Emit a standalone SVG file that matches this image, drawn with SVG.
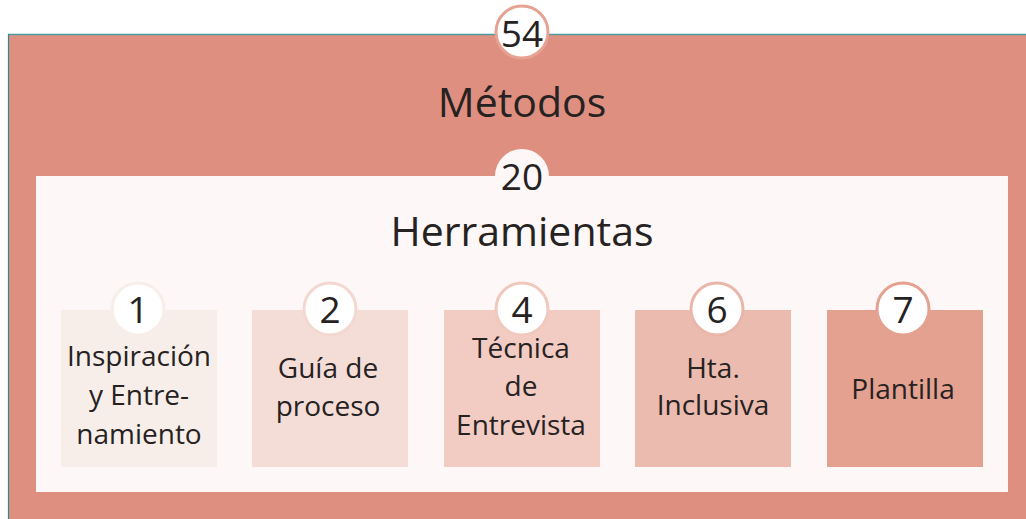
<svg xmlns="http://www.w3.org/2000/svg" width="1026" height="519" viewBox="0 0 1026 519">
<style>
text{font-family:"Open Sans","Noto Sans","Liberation Sans",sans-serif;fill:#262222;text-anchor:middle}
.title{font-size:41px}
.num{font-size:37px}
.lbl{font-size:28px}
.badge{fill:#fff;stroke-width:3}
</style>
<rect width="1026" height="519" fill="#fff"/>
<g id="metodos">
<rect x="8" y="34" width="1018" height="485" fill="#DF8F80"/>
<line x1="8" y1="34.5" x2="1026" y2="34.5" stroke="#4E9A9E" stroke-width="1.5"/>
<line x1="8.5" y1="34" x2="8.5" y2="519" stroke="#2E8A90" stroke-width="1.2"/>
<circle cx="522" cy="32" r="26" class="badge" stroke="#E6A293"/>
<text x="522" y="47" class="num">54</text>
<text x="522" y="117" class="title">Métodos</text>
</g>
<g id="herramientas">
<rect x="36" y="176" width="972" height="316" fill="#FDF8F7"/>
<circle cx="522" cy="176" r="27" fill="#FDF8F7"/>
<text x="522" y="190" class="num">20</text>
<text x="522" y="246" class="title">Herramientas</text>
</g>
<g id="n1">
<rect x="61" y="310" width="156" height="157" fill="#F8EEE9"/>
<circle cx="138" cy="309" r="26" class="badge" stroke="#F8EEE9"/>
<text x="138" y="323" class="num">1</text>
<text x="139" y="366" class="lbl">Inspiración</text>
<text x="139" y="405" class="lbl">y Entre-</text>
<text x="139" y="444" class="lbl">namiento</text>
</g>
<g id="n2">
<rect x="252" y="310" width="156" height="157" fill="#F5DDD7"/>
<circle cx="330" cy="309" r="26" class="badge" stroke="#F3D8D1"/>
<text x="330" y="323" class="num">2</text>
<text x="328" y="378" class="lbl">Guía de</text>
<text x="328" y="416" class="lbl">proceso</text>
</g>
<g id="n4">
<rect x="444" y="310" width="156" height="157" fill="#F2CCC2"/>
<circle cx="522" cy="309" r="26" class="badge" stroke="#F0C8BD"/>
<text x="522" y="323" class="num">4</text>
<text x="521" y="358" class="lbl">Técnica</text>
<text x="521" y="396" class="lbl">de</text>
<text x="521" y="435" class="lbl">Entrevista</text>
</g>
<g id="n6">
<rect x="635" y="310" width="156" height="157" fill="#EBBBAF"/>
<circle cx="717" cy="309" r="26" class="badge" stroke="#EAB6A9"/>
<text x="717" y="323" class="num">6</text>
<text x="713" y="378" class="lbl">Hta.</text>
<text x="713" y="415" class="lbl">Inclusiva</text>
</g>
<g id="n7">
<rect x="827" y="310" width="156" height="157" fill="#E4A190"/>
<circle cx="903" cy="309" r="26" class="badge" stroke="#E4A190"/>
<text x="903" y="323" class="num">7</text>
<text x="903" y="399" class="lbl">Plantilla</text>
</g>
<g id="connectors"/>
</svg>
